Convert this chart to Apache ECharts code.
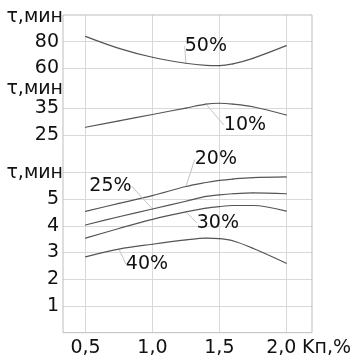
<!DOCTYPE html>
<html><head><meta charset="utf-8">
<script src="https://cdn.jsdelivr.net/npm/echarts@6/dist/echarts.min.js"></script>
<style>html,body{margin:0;padding:0;background:#fff}#c{width:352px;height:361px}</style>
</head><body><div id="c"></div>
<script>
// ---- data ----
const xValues = [0.5, 0.75, 1.0, 1.25, 1.4, 1.5, 1.6, 1.75, 2.0];
const xTicks = [0.5, 1.0, 1.5, 2.0];
const xTickLabels = ['0,5', '1,0', '1,5', '2,0'];
const s50 = [84.0, 75.0, 68.3, 63.8, 62.2, 62.0, 63.3, 67.5, 77.0];
const s10 = [27.9, 30.3, 32.7, 35.1, 36.6, 36.9, 36.6, 35.6, 32.5];
const s20 = [4.54, 4.84, 5.13, 5.47, 5.62, 5.70, 5.75, 5.80, 5.83];
const s25 = [4.03, 4.34, 4.63, 4.92, 5.10, 5.16, 5.20, 5.23, 5.20];
const s30 = [3.54, 3.90, 4.24, 4.52, 4.66, 4.72, 4.76, 4.76, 4.55];
const s40 = [2.84, 3.13, 3.31, 3.47, 3.54, 3.52, 3.44, 3.16, 2.60];
const yTicksTop = [60, 80];
const yTicksMid = [25, 35];
const yGridLow = [1, 2, 3, 4, 5, 6];
const yLabelsLow = [1, 2, 3, 4, 5];
const yName = 'τ,мин';
const xName = 'Kп,%';

const FONT = 'DejaVu Sans';
const FS = 19;
const GRID_C = '#d9d9d9';
const LINE_C = '#555555';

function fmtX(v) {
  const i = xTicks.findIndex(t => Math.abs(t - v) < 1e-6);
  if (i < 0) return '';
  return i === xTicks.length - 1 ? '{p|' + xTickLabels[i] + '}' : xTickLabels[i];
}

function xAx(gi, showLabels) {
  return {
    type: 'value', gridIndex: gi, min: 0.332, max: 2.192,
    axisLine: { show: false },
    axisTick: { show: false, customValues: xTicks },
    splitLine: { show: true, lineStyle: { color: GRID_C, width: 1 } },
    axisLabel: showLabels ? {
      show: true, customValues: xTicks, formatter: fmtX, margin: 6,
      fontFamily: FONT, fontSize: FS, color: '#111',
      rich: { p: { fontFamily: FONT, fontSize: FS, color: '#111', padding: [0, 10, 0, 0] } }
    } : { show: false },
    name: showLabels ? xName : '',
    nameLocation: 'end', nameGap: -10,
    nameTextStyle: { fontFamily: FONT, fontSize: FS, color: '#111', align: 'left', verticalAlign: 'top', padding: [6, 0, 0, 0] }
  };
}

function yAx(gi, min, max, grid, labels, nameGap) {
  return {
    type: 'value', gridIndex: gi, min: min, max: max,
    axisLine: { show: false },
    axisTick: { show: false, customValues: grid },
    splitLine: { show: true, lineStyle: { color: GRID_C, width: 1 } },
    axisLabel: { show: true, customValues: labels, margin: 4, fontFamily: FONT, fontSize: FS, color: '#111' },
    name: yName, nameLocation: 'end', nameGap: nameGap,
    nameTextStyle: { fontFamily: FONT, fontSize: FS, color: '#111', align: 'right', verticalAlign: 'middle' }
  };
}

function mk(text, vals, gi, li, dx, dy) {
  return {
    type: 'line', name: text, xAxisIndex: gi, yAxisIndex: gi,
    smooth: 0.35, symbol: 'circle', symbolSize: 1, showSymbol: true,
    lineStyle: { color: LINE_C, width: 1.2 }, itemStyle: { color: LINE_C },
    data: vals.map((v, i) => i === li
      ? { value: [xValues[i], v], label: { show: true, formatter: text } }
      : [xValues[i], v]),
    label: { show: false, position: 'inside', fontFamily: FONT, fontSize: FS, color: '#111' },
    labelLayout: p => (p.dataIndex === li ? { dx: dx, dy: dy } : {}),
    labelLine: { show: true, lineStyle: { color: '#c4c4c4', width: 1 } },
    emphasis: { disabled: true }, silent: true
  };
}

const chart = echarts.init(document.getElementById('c'), null, { renderer: 'canvas' });
chart.setOption({
  animation: false,
  backgroundColor: '#fff',
  grid: [
    { left: 63, right: 40, top: 15, height: 68 },
    { left: 63, right: 40, top: 83, height: 76 },
    { left: 63, right: 40, top: 159, height: 173.7 },
    { left: 63, right: 40, top: 15, bottom: 28.3, show: true, borderColor: '#bdbdbd', borderWidth: 1, backgroundColor: 'transparent', z: 10 }
  ],
  xAxis: [xAx(0, false), xAx(1, false), xAx(2, true), { type: 'value', gridIndex: 3, show: false }],
  yAxis: [
    yAx(0, 49, 100, yTicksTop, yTicksTop, -2),
    yAx(1, 16, 44.5, yTicksMid, yTicksMid, -8),
    yAx(2, 0, 6.5, yGridLow, yLabelsLow, -14),
    { type: 'value', gridIndex: 3, show: false }
  ],
  series: [
    mk('50%', s50, 0, 3, 20, -17),
    mk('10%', s10, 1, 4, 39, 21),
    mk('20%', s20, 2, 3, 30, -27),
    mk('25%', s25, 2, 2, -42, -23),
    mk('30%', s30, 2, 3, 32, 11),
    mk('40%', s40, 2, 1, 28, 15)
  ]
});
</script>
</body></html>
